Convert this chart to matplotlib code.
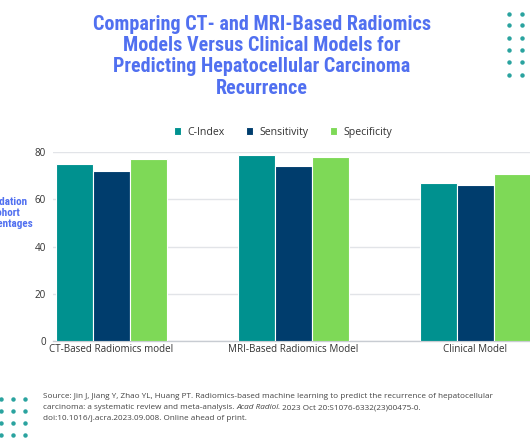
import numpy as np
import matplotlib
matplotlib.use("Agg")
import matplotlib.pyplot as plt

# --- Data ---
models = ["CT-Based Radiomics model", "MRI-Based Radiomics Model", "Clinical Model"]
metrics = ["C-Index", "Sensitivity", "Specificity"]
c_index = [75, 79, 67]
sensitivity = [72, 74, 66]
specificity = [77, 78, 71]
y_ticks = [0, 20, 40, 60, 80]

colors = ["#00918f", "#003d6d", "#7ed957"]
title_color = "#5170f0"
dot_color = "#2aa39f"

title_lines = ["Comparing CT- and MRI-Based Radiomics", "Models Versus Clinical Models for",
               "Predicting Hepatocellular Carcinoma", "Recurrence"]
source_1 = ("Source: Jin J, Jiang Y, Zhao YL, Huang PT. Radiomics-based machine learning "
            "to predict the recurrence of hepatocellular")
source_2a = "carcinoma: a systematic review and meta-analysis. "
source_2b = "Acad Radiol."
source_2c = " 2023 Oct 20:S1076-6332(23)00475-0."
source_3 = "doi:10.1016/j.acra.2023.09.008. Online ahead of print."

narrow = ["Roboto Condensed", "Open Sans Condensed", "Liberation Sans Narrow",
          "DejaVu Sans Condensed", "Liberation Sans"]
body = ["Open Sans", "DejaVu Sans"]

W, H = 530, 442
fig = plt.figure(figsize=(W / 100, H / 100), dpi=100)
fig.patch.set_facecolor("white")
r = fig.canvas.get_renderer()


def fit_size(s, target_px, **kw):
    # scale a font size so that the string s is target_px wide
    t = fig.text(0, 0, s, fontsize=10, **kw)
    w = t.get_window_extent(r).width
    t.remove()
    return 10 * target_px / w


def px(xp, yp):
    return xp / W, 1 - yp / H


ax = fig.add_axes([0.1, 0.2285, 0.9, 0.4269])

x = np.arange(len(models))
width = 0.203
series = [c_index, sensitivity, specificity]
for i, (vals, name) in enumerate(zip(series, metrics)):
    ax.bar(x + (i - 1) * width, vals, width, color=colors[i], label=name,
           edgecolor="white", linewidth=0.8, zorder=3)

tick_size = fit_size(models[0], 124, family=body)
ax.set_xlim(-0.32, 2.30)
ax.set_ylim(0, 80)
ax.set_yticks(y_ticks)
ax.set_xticks(x)
ax.set_xticklabels(models, family=body, fontsize=tick_size, color="#333333")
ax.tick_params(axis="y", labelsize=tick_size, labelcolor="#333333", length=0, pad=5)
ax.tick_params(axis="x", length=0, pad=2)
for lbl in ax.get_yticklabels():
    lbl.set_family(body)
ax.grid(axis="y", color="#e2e4e8", linewidth=1, zorder=0)
for s in ["top", "right", "left"]:
    ax.spines[s].set_visible(False)
ax.spines["bottom"].set_color("#c8ccd2")
ax.spines["bottom"].set_linewidth(1)
ax.set_facecolor("white")

leg_size = fit_size("C-Index", 37, family=body)
ax.legend(loc="center", bbox_to_anchor=px(283, 132.3), bbox_transform=fig.transFigure,
          ncol=3, frameon=False, handlelength=0.7, handleheight=0.7,
          columnspacing=2.0, handletextpad=0.6,
          prop={"family": body, "size": leg_size}, labelcolor="#333333")

# title, one text per line so each line can sit where the reference puts it
title_size = fit_size(title_lines[0], 340, family=narrow, fontweight="bold")
for line, yp in zip(title_lines, [25, 45.5, 67, 88]):
    fig.text(*px(262, yp), line, ha="center", va="center", family=narrow,
             fontweight="bold", fontsize=title_size, color=title_color)

# y label (partly off the left edge)
yl_size = fit_size("Percentages", 56, family=narrow, fontweight="bold")
for line, yp in zip(["Validation", "Cohort", "Percentages"], [202, 213, 224]):
    fig.text(*px(5, yp), line, ha="center", va="center", family=narrow,
             fontweight="bold", fontsize=yl_size, color=title_color)

# source text
src_size = fit_size(source_1, 445, family=body)
sx = 42.7
fig.text(*px(sx, 396.7), source_1, ha="left", va="center", family=body,
         fontsize=src_size, color="#444444")
xx = sx
for part, st in [(source_2a, "normal"), (source_2b, "italic"), (source_2c, "normal")]:
    t = fig.text(*px(xx, 407.7), part, ha="left", va="center", family=body,
                 fontsize=src_size, color="#444444", style=st)
    xx = t.get_window_extent(r).x1
fig.text(*px(sx, 419), source_3, ha="left", va="center", family=body,
         fontsize=src_size, color="#444444")

# decorative dots
dots_tr_x = [509.3, 522]
dots_tr_y = [13.7, 25.3, 37.7, 50, 62.3, 74.7]
dots_bl_x = [0.7, 12.7, 25]
dots_bl_y = [399, 411, 423, 435]
for xs, ys in [(dots_tr_x, dots_tr_y), (dots_bl_x, dots_bl_y)]:
    gx, gy = np.meshgrid(xs, ys)
    fig.add_artist(plt.Line2D(gx.ravel() / W, 1 - gy.ravel() / H, linestyle="none",
                              marker="o", markersize=2.2, color=dot_color,
                              transform=fig.transFigure))

fig.savefig("out.png", dpi=100, facecolor="white")
